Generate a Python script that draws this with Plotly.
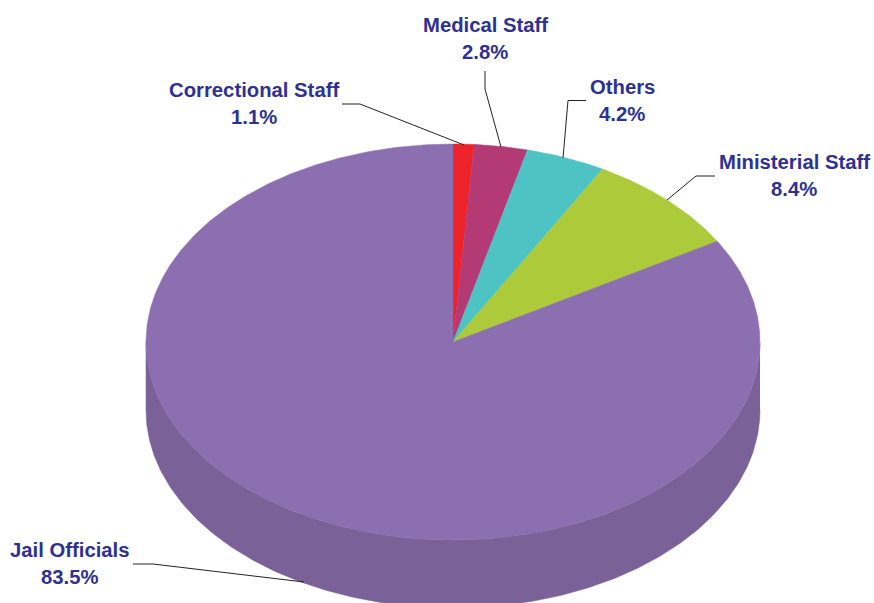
import numpy as np
import plotly.graph_objects as go

categories = ["Correctional Staff", "Medical Staff", "Others", "Ministerial Staff", "Jail Officials"]
values = [1.1, 2.8, 4.2, 8.4, 83.5]
colors = ["#ee2229", "#b43a76", "#4dc3c3", "#acca39", "#8c6fb0"]
wall_color = "#7a6197"
text_color = "#2e3192"

# Pie geometry in page pixels
cx, cy, rx, ry, depth = 453, 342, 307, 198, 68

# Label centres and leader-line routes, in page pixels
label_x = [253.5, 485, 622, 794, 70]
label_y = [90, 25, 87, 162, 550]
leaders = [
    ([342, 360, 464], [104, 104, 145]),
    ([485, 485, 501], [71, 89, 147]),
    ([586, 568, 563], [100.5, 100.5, 158]),
    ([715, 696, 667], [176, 176, 200]),
    ([133, 153, 304], [564, 564, 582]),
]

fig = go.Figure()

# Side wall of the disc
t = np.linspace(0, np.pi, 240)
wall_x = np.concatenate([cx + rx * np.cos(t), (cx + rx * np.cos(t))[::-1]])
wall_y = np.concatenate([cy + ry * np.sin(t), (cy + depth + ry * np.sin(t))[::-1]])
fig.add_trace(go.Scatter(x=wall_x, y=wall_y, mode="lines", fill="toself",
                         fillcolor=wall_color, line=dict(color=wall_color, width=0.5),
                         hoverinfo="skip", showlegend=False))

# Top face: one wedge per value, clockwise from 12 o'clock
start = 0.0
total = sum(values)
for name, value, color in zip(categories, values, colors):
    a0 = start / total * 2 * np.pi
    a1 = (start + value) / total * 2 * np.pi
    a = np.linspace(a0, a1, max(4, int(value * 8)))
    x = np.concatenate([[cx], cx + rx * np.sin(a), [cx]])
    y = np.concatenate([[cy], cy - ry * np.cos(a), [cy]])
    fig.add_trace(go.Scatter(x=x, y=y, mode="lines", fill="toself", fillcolor=color,
                             line=dict(color=color, width=0.5), name=name,
                             hoverinfo="name", showlegend=False))
    start += value

# Leader lines
for lx, ly in leaders:
    fig.add_trace(go.Scatter(x=lx, y=ly, mode="lines", line=dict(color="#222222", width=1),
                             hoverinfo="skip", showlegend=False))

# Labels
font = dict(family="Liberation Sans, Arial, sans-serif", size=20.3, color=text_color, weight=700)
for name, value, x, y in zip(categories, values, label_x, label_y):
    fig.add_annotation(x=x, y=y, text=name, showarrow=False, font=font,
                       xanchor="center", yanchor="middle")
    fig.add_annotation(x=x, y=y + 27, text=f"{value:.1f}%", showarrow=False, font=font,
                       xanchor="center", yanchor="middle")

fig.update_layout(
    width=874, height=603, margin=dict(l=0, r=0, t=0, b=0),
    paper_bgcolor="white", plot_bgcolor="white", showlegend=False,
    xaxis=dict(range=[0, 874], visible=False, fixedrange=True),
    yaxis=dict(range=[603, 0], visible=False, fixedrange=True),
)
fig.write_html("out.html", config={"displayModeBar": False},
               post_script="document.body.style.margin='0';document.documentElement.style.overflow='hidden';")
